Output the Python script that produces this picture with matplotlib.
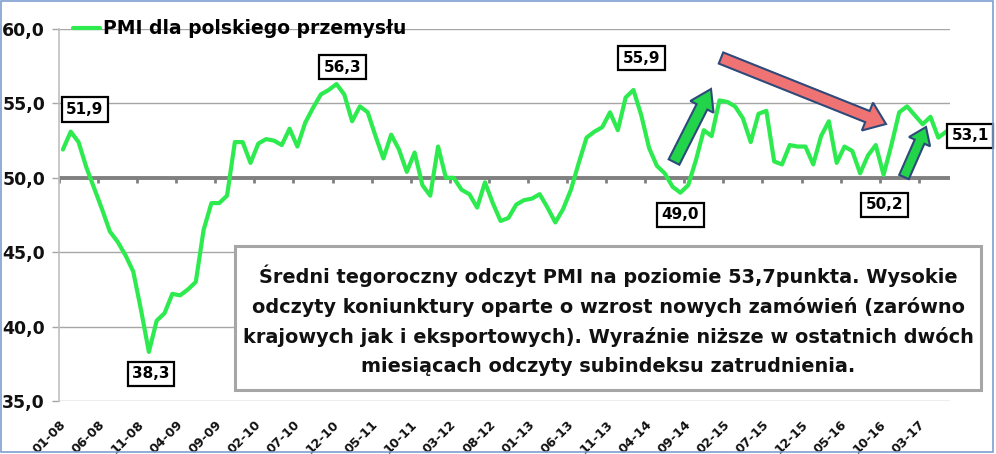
import matplotlib
matplotlib.use("Agg")
import matplotlib.pyplot as plt
from matplotlib.patches import Rectangle, FancyArrow
from matplotlib.transforms import ScaledTranslation

# ---------------- data ----------------
pmi_2008 = [51.9, 53.1, 52.4, 50.7, 49.3, 47.9, 46.4, 45.7, 44.8, 43.7, 41.1, 38.3]
pmi_2009 = [40.4, 40.9, 42.2, 42.1, 42.5, 43.0, 46.5, 48.3, 48.3, 48.8, 52.4, 52.4]
pmi_2010 = [51.0, 52.3, 52.6, 52.5, 52.2, 53.3, 52.1, 53.7, 54.7, 55.6, 55.9, 56.3]
pmi_2011 = [55.6, 53.8, 54.8, 54.4, 52.8, 51.3, 52.9, 51.9, 50.4, 51.7, 49.5, 48.8]
pmi_2012 = [52.1, 50.0, 50.0, 49.2, 48.9, 48.0, 49.7, 48.3, 47.1, 47.3, 48.2, 48.5]
pmi_2013 = [48.6, 48.9, 48.0, 47.0, 47.9, 49.2, 51.0, 52.7, 53.1, 53.4, 54.4, 53.2]
pmi_2014 = [55.4, 55.9, 54.2, 52.0, 50.8, 50.3, 49.4, 49.0, 49.5, 51.2, 53.2, 52.8]
pmi_2015 = [55.2, 55.1, 54.8, 54.0, 52.4, 54.3, 54.5, 51.1, 50.9, 52.2, 52.1, 52.1]
pmi_2016 = [50.9, 52.8, 53.8, 51.0, 52.1, 51.8, 50.3, 51.5, 52.2, 50.2, 52.2, 54.4]
pmi_2017 = [54.8, 54.2, 53.6, 54.1, 52.7, 53.1]
pmi = (pmi_2008 + pmi_2009 + pmi_2010 + pmi_2011 + pmi_2012 + pmi_2013
       + pmi_2014 + pmi_2015 + pmi_2016 + pmi_2017)

start_year = 2008
months = [f"{i % 12 + 1:02d}-{(start_year + i // 12) % 100:02d}" for i in range(len(pmi))]
label_step = 5

series_name = "PMI dla polskiego przemysłu"
y_ticks = [35, 40, 45, 50, 55, 60]
threshold = 50

# highlighted points (index into pmi) and label offsets in pixels
highlight_idx = [0, 11, 35, 73, 79, 105, 113]
highlight_off = [(22, 40), (2, -22), (6, 17), (8, 32), (0, -22), (1, -30), (24, -4)]

note_lines = [
    "Średni tegoroczny odczyt PMI na poziomie 53,7punkta. Wysokie",
    "odczyty koniunktury oparte o wzrost nowych zamówień (zarówno",
    "krajowych jak i eksportowych). Wyraźnie niższe w ostatnich dwóch",
    "miesiącach odczyty subindeksu zatrudnienia.",
]

# ---------------- figure ----------------
W, H = 996, 454
plt.rcParams["font.family"] = ["DejaVu Sans"]
plt.rcParams["font.weight"] = "bold"
fig = plt.figure(figsize=(W / 100, H / 100), dpi=100)
fig.patch.set_facecolor("white")

L, R, T, B = 59, 950, 29, 401
ax = fig.add_axes([L / W, 1 - B / H, (R - L) / W, (B - T) / H])
n = len(pmi)
ax.set_xlim(-0.5, n - 0.5)
ax.set_ylim(35, 60)

LINE_GREEN = "#2DEB4F"
GRID = "#A6A6A6"

ax.set_yticks(y_ticks)
ax.set_yticklabels([f"{v:.1f}".replace(".", ",") for v in y_ticks])
ax.yaxis.grid(True, color=GRID, lw=1.0, zorder=0)
ax.set_axisbelow(True)
ax.tick_params(axis="y", length=5, width=1, color=GRID, pad=5, labelsize=12.5,
               labelcolor="#111111")

ax.set_xticks(range(0, n, label_step))
ax.set_xticklabels(months[::label_step], rotation=45, ha="right", va="top",
                   rotation_mode="anchor", fontsize=9.2, color="#111111")
ax.tick_params(axis="x", length=0, pad=12)
shift = ScaledTranslation(-4 / 100, 0, fig.dpi_scale_trans)
for lab in ax.get_xticklabels():
    lab.set_transform(lab.get_transform() + shift)

for s in ["top", "right", "bottom"]:
    ax.spines[s].set_visible(False)
ax.spines["left"].set_color("#BFBFBF")
ax.spines["left"].set_linewidth(1.2)

# threshold axis line with tick marks
ax.axhline(threshold, color="#808080", lw=2.8, zorder=2)
bounds = [k - 0.5 for k in range(0, n, label_step)]
ax.vlines(bounds, threshold - 0.33, threshold, color="#808080", lw=2, zorder=2)

ax.plot(range(n), pmi, color=LINE_GREEN, lw=3.0, solid_joinstyle="round",
        solid_capstyle="round", zorder=3, label=series_name)

leg = ax.legend(loc="center left", bbox_to_anchor=(73 / W, 1 - 29 / H),
                bbox_transform=fig.transFigure, frameon=False, fontsize=13.5,
                handlelength=1.45, handletextpad=0.15, borderpad=0, borderaxespad=0)

for idx, (dx, dy) in zip(highlight_idx, highlight_off):
    ax.annotate(f"{pmi[idx]:.1f}".replace(".", ","), xy=(idx, pmi[idx]),
                xytext=(dx, dy), textcoords="offset pixels", ha="center", va="center",
                fontsize=11, color="black", zorder=6, annotation_clip=False,
                bbox=dict(boxstyle="square,pad=0.3", fc="white", ec="black", lw=1.6))

# ---------------- overlay (pixel coords) ----------------
ov = fig.add_axes([0, 0, 1, 1], zorder=5)
ov.set_xlim(0, W)
ov.set_ylim(H, 0)
ov.axis("off")
ov.patch.set_alpha(0)

ov.add_patch(Rectangle((235, 246), 746, 144, fc="white", ec="#A6A6A6", lw=2.2))
ov.text(608, 320, "\n".join(note_lines), ha="center", va="center", fontsize=13.9,
        linespacing=1.64, color="#111111")

NAVY = "#2E4A7A"

def arrow(x0, y0, x1, y1, w, hw, hl, fc):
    ov.add_patch(FancyArrow(x0, y0, x1 - x0, y1 - y0, width=w, head_width=hw,
                            head_length=hl, length_includes_head=True,
                            fc=fc, ec=NAVY, lw=1.5))

arrow(674, 162, 711, 89, 12, 26, 20, "#22D44A")
arrow(721, 58, 886, 124, 12, 30, 20, "#F07373")
arrow(904, 177, 926, 127, 10.5, 23, 16, "#22D44A")

ov.add_patch(Rectangle((1, 1), 992, 451, fill=False, ec="#7F9FCF", lw=1.2))

fig.savefig("out.png", dpi=100, facecolor="white")
